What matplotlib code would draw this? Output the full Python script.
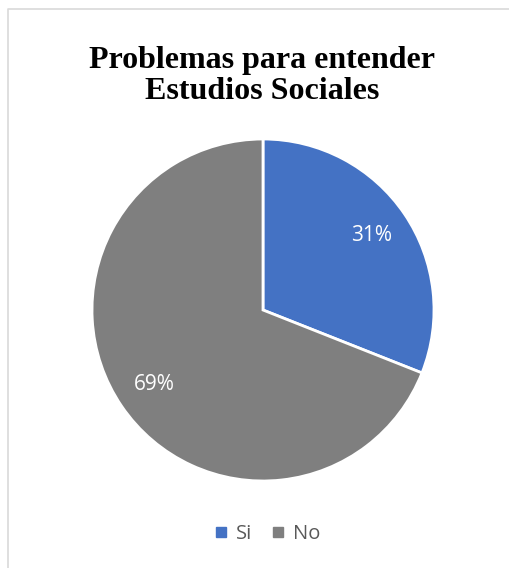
import matplotlib.pyplot as plt
from matplotlib.lines import Line2D

labels = ["Si", "No"]
values = [31, 69]
colors = ["#4472C4", "#7F7F7F"]
title = "Problemas para entender\nEstudios Sociales"

fig = plt.figure(figsize=(5.09, 5.68), dpi=100)

# chart border (only left and top edges are inside the picture)
fig.add_artist(Line2D([7.5 / 509, 7.5 / 509, 1], [0, 1 - 9 / 568, 1 - 9 / 568],
                      transform=fig.transFigure, color="#D9D9D9", linewidth=1.2))

ax = fig.add_axes([92 / 509, 87 / 568, 342 / 509, 342 / 568])
wedges, texts, autotexts = ax.pie(
    values, colors=colors, startangle=90, counterclock=False,
    autopct="%d%%", pctdistance=0.77,
    wedgeprops=dict(edgecolor="white", linewidth=2),
    textprops=dict(color="white", fontsize=15, family="Open Sans"),
)
ax.set_xlim(-1, 1)
ax.set_ylim(-1, 1)

fig.text(262 / 509, 1 - 76 / 568, title, ha="center", va="center",
         family="Liberation Serif", fontweight="bold", fontsize=23,
         linespacing=1.05)

handles = [Line2D([], [], marker="s", linestyle="", color=c, markersize=6.5)
           for c in colors]
fig.legend(handles, labels, loc="center", bbox_to_anchor=(263 / 509, 1 - 534 / 568),
           ncol=2, frameon=False, handletextpad=0.0, columnspacing=0.5,
           handlelength=1.5, prop=dict(family="Open Sans", size=14.5),
           labelcolor="#595959")

fig.savefig("out.png", dpi=100)
